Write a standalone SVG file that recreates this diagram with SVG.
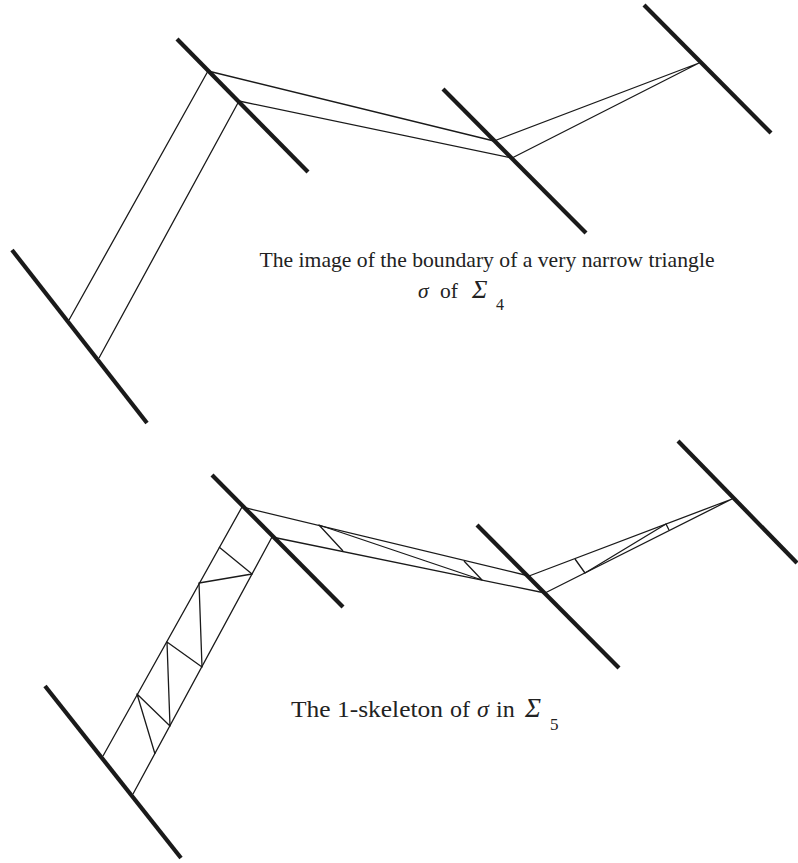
<svg xmlns="http://www.w3.org/2000/svg" width="798" height="863" viewBox="0 0 798 863">
<style>
.bar{stroke:#1a1a1a;stroke-width:4.2;stroke-linecap:butt;fill:none}
.thin{stroke:#1a1a1a;stroke-width:1.3;fill:none;stroke-linejoin:round}
.lbl{font-family:"Liberation Serif","DejaVu Serif",serif;font-size:21.5px;fill:#222}
.lbl2{font-family:"Liberation Serif","DejaVu Serif",serif;font-size:24px;fill:#222}
.it{font-style:italic}
.sig{font-style:italic;font-size:26px}
.sig2{font-style:italic;font-size:27px}
.sub{font-size:16px}
.sub2{font-size:17px}
</style>
<rect width="798" height="863" fill="#fff"/>
<g id="top-bars">
<line class="bar" x1="177" y1="39" x2="308" y2="172"/>
<line class="bar" x1="443" y1="89" x2="586" y2="233"/>
<line class="bar" x1="644" y1="5" x2="771" y2="133"/>
<line class="bar" x1="12" y1="250" x2="147" y2="423"/>
</g>
<g id="top-connectors">
<polyline class="thin" points="69,320 208,71 494,141 699,63 512,158 239,101 99,358"/>
</g>
<g id="top-label">
<text class="lbl" x="487" y="267" text-anchor="middle" textLength="455" lengthAdjust="spacingAndGlyphs">The image of the boundary of a very narrow triangle</text>
<text class="lbl" x="418" y="298"><tspan class="it">σ</tspan><tspan x="440">of</tspan><tspan class="sig" x="472">Σ</tspan><tspan class="sub" x="496" dy="12">4</tspan></text>
</g>
<g id="bottom-bars">
<line class="bar" x1="212" y1="475" x2="343" y2="607"/>
<line class="bar" x1="477" y1="525" x2="619" y2="668"/>
<line class="bar" x1="678" y1="441" x2="797" y2="563"/>
<line class="bar" x1="45" y1="686" x2="181" y2="858"/>
</g>
<g id="bottom-connectors">
<polyline class="thin" points="103,756 242,507 529,576 732,499 545,593 272,537 133,794"/>
<polyline class="thin" points="219,547 252,574 199,583 202,667 167,642 170,726 137,694 155,754"/>
<polyline class="thin" points="343,551 319,525 482,580 464,561"/>
<polyline class="thin" points="575,559 585,573 666,524 669,530"/>
</g>
<g id="bottom-label">
<text class="lbl2" x="291" y="717"><tspan textLength="152" lengthAdjust="spacingAndGlyphs">The 1-skeleton</tspan><tspan x="450">of</tspan><tspan class="it" x="477">σ</tspan><tspan x="496">in</tspan><tspan class="sig2" x="525">Σ</tspan><tspan class="sub2" x="550" dy="13">5</tspan></text>
</g>
</svg>
